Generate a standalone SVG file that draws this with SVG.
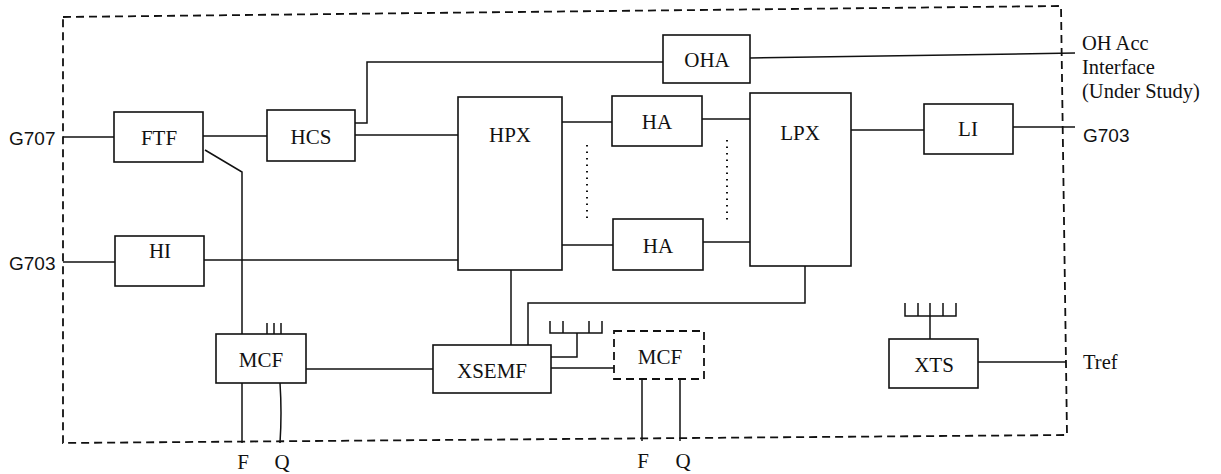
<svg xmlns="http://www.w3.org/2000/svg" width="1221" height="474" viewBox="0 0 1221 474">
<style>
.bx{fill:#fff;stroke:#111;stroke-width:1.6}
.dbx{fill:#fff;stroke:#111;stroke-width:1.8;stroke-dasharray:8 5}
.ln{fill:none;stroke:#111;stroke-width:1.5}
.dots{fill:none;stroke:#111;stroke-width:2;stroke-dasharray:1.5 5}
.bd{fill:none;stroke:#111;stroke-width:1.8;stroke-dasharray:8 5}
.t{font-family:"Liberation Serif","Times New Roman",serif;font-size:21px;fill:#111;text-anchor:middle}
.tl{font-family:"Liberation Serif","Times New Roman",serif;font-size:20.5px;fill:#111}
.ts{font-family:"Liberation Sans",Arial,sans-serif;font-size:19px;fill:#111}
</style>
<rect width="1221" height="474" fill="#fff"/>
<g id="boundary">
<path class="bd" d="M63,17 L1061,6 L1067,435 L63,443 Z"/>
</g>
<g id="connectors">
<path class="ln" d="M63,137 H114"/>
<path class="ln" d="M203,136 H267"/>
<path class="ln" d="M205,150 L242,172 V334"/>
<path class="ln" d="M355,123 H367 V62 H663"/>
<path class="ln" d="M750,58 L1075,53"/>
<path class="ln" d="M355,135 H458"/>
<path class="ln" d="M562,122 H612"/>
<path class="ln" d="M702,119 H750"/>
<path class="ln" d="M851,130 H924"/>
<path class="ln" d="M1013,127 H1075"/>
<path class="ln" d="M562,245 H613"/>
<path class="ln" d="M703,242 H750"/>
<path class="dots" d="M587,145 V222"/>
<path class="dots" d="M727,140 V220"/>
<path class="ln" d="M63,262 H115"/>
<path class="ln" d="M204,260 H458"/>
<path class="ln" d="M267,334 V323 M274,334 V323 M281,334 V323"/>
<path class="ln" d="M306,369 H433"/>
<path class="ln" d="M242,383 V443"/>
<path class="ln" d="M280,383 Q282,413 280,443"/>
<path class="ln" d="M511,270 V345"/>
<path class="ln" d="M805,266 V303 H528 V345"/>
<path class="ln" d="M551,357 H577 V333"/>
<path class="ln" d="M550,321 V333 H602 V321 M563,333 V321 M589,333 V321"/>
<path class="ln" d="M551,368 H615"/>
<path class="ln" d="M642,379 V441"/>
<path class="ln" d="M680,379 V441"/>
<path class="ln" d="M930,339 V316"/>
<path class="ln" d="M905,303 V316 H956 V303 M918,316 V303 M930,316 V303 M943,316 V303"/>
<path class="ln" d="M978,362 H1066"/>
</g>
<g id="FTF"><rect class="bx" x="114" y="112" width="89" height="50"/><text class="t" x="159" y="145">FTF</text></g>
<g id="HCS"><rect class="bx" x="267" y="110" width="88" height="51"/><text class="t" x="311" y="144">HCS</text></g>
<g id="OHA"><rect class="bx" x="663" y="35" width="87" height="48"/><text class="t" x="707" y="67">OHA</text></g>
<g id="HPX"><rect class="bx" x="458" y="97" width="104" height="173"/><text class="t" x="510" y="142">HPX</text></g>
<g id="HA1"><rect class="bx" x="612" y="96" width="90" height="50"/><text class="t" x="657" y="129">HA</text></g>
<g id="HA2"><rect class="bx" x="613" y="219" width="90" height="51"/><text class="t" x="658" y="253">HA</text></g>
<g id="LPX"><rect class="bx" x="750" y="93" width="101" height="173"/><text class="t" x="800" y="140">LPX</text></g>
<g id="LI"><rect class="bx" x="924" y="104" width="89" height="50"/><text class="t" x="968" y="136">LI</text></g>
<g id="HI"><rect class="bx" x="115" y="236" width="89" height="50"/><text class="t" x="160" y="258">HI</text></g>
<g id="MCF1"><rect class="bx" x="216" y="334" width="90" height="49"/><text class="t" x="261" y="367">MCF</text></g>
<g id="XSEMF"><rect class="bx" x="433" y="345" width="118" height="48"/><text class="t" x="492" y="378">XSEMF</text></g>
<g id="MCF2"><rect class="dbx" x="614" y="331" width="90" height="48"/><text class="t" x="660" y="364">MCF</text></g>
<g id="XTS"><rect class="bx" x="889" y="339" width="89" height="49"/><text class="t" x="934" y="372">XTS</text></g>
<g id="labels">
<text class="ts" x="9" y="145">G707</text>
<text class="ts" x="9" y="270">G703</text>
<text class="ts" x="1083" y="142">G703</text>
<text class="tl" x="1082" y="50">OH Acc</text>
<text class="tl" x="1082" y="74">Interface</text>
<text class="tl" x="1082" y="98">(Under Study)</text>
<text class="tl" x="1083" y="369">Tref</text>
<text class="t" x="243" y="469">F</text>
<text class="t" x="282" y="469">Q</text>
<text class="t" x="643" y="468">F</text>
<text class="t" x="683" y="468">Q</text>
</g>
</svg>
